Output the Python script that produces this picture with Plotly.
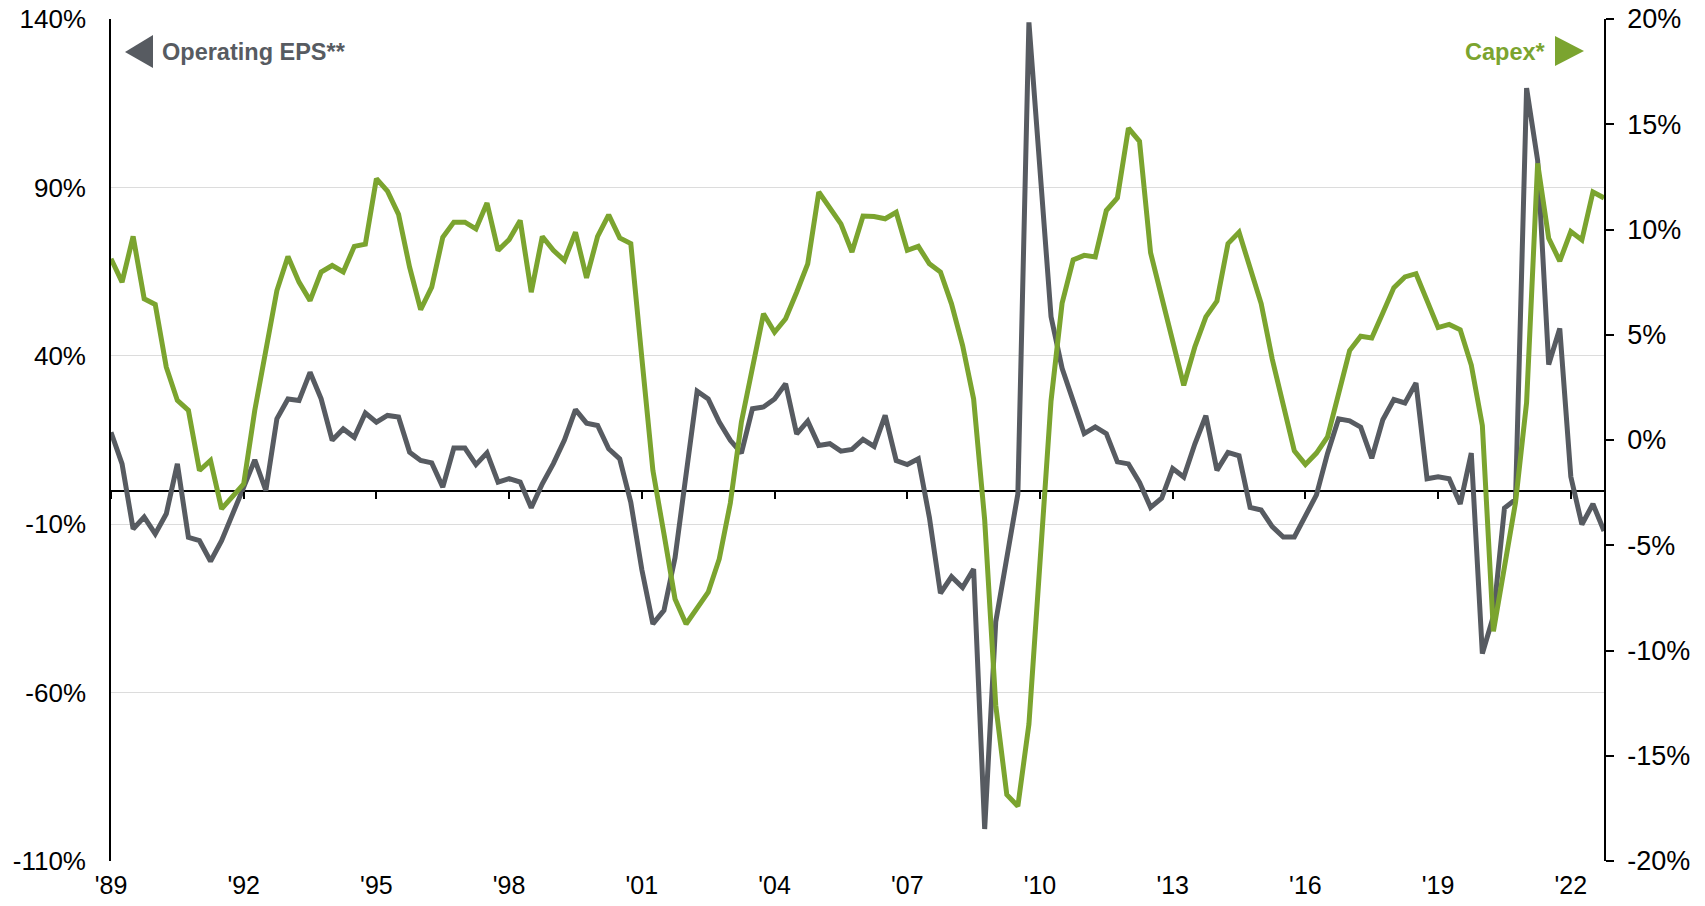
import plotly.graph_objects as go
import pandas as pd

# Operating EPS y/y growth (%), left axis, quarterly from 1989Q1
eps = [17.3, 7.9, -11.4, -7.9, -12.9, -6.9, 7.9, -13.9, -14.9, -21.0,
       -14.9, -7.4, 1.0, 9.1, 0.0, 21.3, 27.2, 26.7, 35.1, 27.2,
       14.9, 18.3, 15.8, 23.0, 20.3, 22.3, 21.8, 11.4, 8.9, 8.2,
       1.0, 12.6, 12.6, 7.7, 11.2, 2.5, 3.5, 2.5, -5.1, 2.0,
       8.0, 15.0, 24.0, 20.0, 19.3, 12.4, 9.4, -3.5, -23.5, -39.6,
       -35.6, -20.0, 5.0, 29.5, 27.2, 20.3, 14.9, 11.1, 24.3, 24.8,
       27.2, 31.7, 16.8, 20.6, 13.4, 13.9, 11.7, 12.2, 15.2, 13.1,
       22.3, 8.9, 7.7, 9.4, -8.0, -30.5, -25.6, -28.8, -23.3, -100.5,
       -39.0, -20.2, -1.0, 139.0, 93.0, 51.6, 36.3, 26.6, 16.9, 18.9,
       16.9, 8.5, 7.9, 2.4, -5.0, -2.3, 6.5, 4.0, 13.8, 22.2,
       6.0, 11.3, 10.3, -5.0, -5.8, -10.7, -13.8, -13.8, -7.8, -1.3,
       11.0, 21.3, 20.7, 18.8, 9.6, 21.0, 27.0, 26.0, 31.9, 3.5,
       4.1, 3.5, -4.0, 11.1, -48.4, -37.3, -5.2, -2.7, 119.5, 98.0,
       37.4, 48.1, 4.1, -10.1, -4.0, -12.0]

# Capex y/y growth (%), right axis
capex = [8.61, 7.5, 9.67, 6.71, 6.44, 3.46, 1.88, 1.41, -1.45, -0.97,
         -3.27, -2.64, -2.08, 1.41, 4.26, 7.1, 8.72, 7.5, 6.62, 7.98,
         8.29, 7.98, 9.2, 9.3, 12.42, 11.82, 10.72, 8.21, 6.19, 7.26,
         9.63, 10.35, 10.35, 10.03, 11.26, 9.01, 9.52, 10.43, 7.02, 9.67,
         9.01, 8.53, 9.87, 7.7, 9.67, 10.7, 9.6, 9.33, 3.9, -1.45,
         -4.46, -7.55, -8.74, -7.95, -7.23, -5.65, -3.0, 0.85, 3.3, 6.0,
         5.12, 5.76, 7.02, 8.37, 11.78, 11.07, 10.27, 8.93, 10.64, 10.62,
         10.51, 10.82, 9.01, 9.2, 8.37, 7.98, 6.47, 4.5, 1.95, -3.8,
         -12.6, -16.85, -17.4, -13.5, -6.1, 1.86, 6.5, 8.56, 8.77, 8.7,
         10.9, 11.5, 14.82, 14.19, 8.9, 6.78, 4.72, 2.6, 4.42, 5.85,
         6.6, 9.33, 9.87, 8.1, 6.48, 3.85, 1.58, -0.52, -1.16, -0.62,
         0.15, 2.3, 4.25, 4.93, 4.85, 6.03, 7.24, 7.75, 7.9, 6.62,
         5.34, 5.49, 5.24, 3.56, 0.69, -9.09, -5.93, -2.96, 1.78, 13.14,
         9.58, 8.5, 9.9, 9.5, 11.78, 11.5]

quarters = pd.period_range("1989Q1", periods=len(eps), freq="Q")
x = [q.year + (q.quarter - 1) / 4 for q in quarters]

tick_years = [1989, 1992, 1995, 1998, 2001, 2004, 2007, 2010, 2013, 2016, 2019, 2022]
tick_labels = ["'89", "'92", "'95", "'98", "'01", "'04", "'07", "'10", "'13", "'16", "'19", "'22"]
left_ticks = [-110, -60, -10, 40, 90, 140]
left_labels = ["-110%", "-60%", "-10%", "40%", "90%", "140%"]
right_ticks = [-20, -15, -10, -5, 0, 5, 10, 15, 20]
right_labels = ["-20%", "-15%", "-10%", "-5%", "0%", "5%", "10%", "15%", "20%"]

GRAY = "#575b61"
GREEN = "#7ba42f"
FONT = "Arial, Liberation Sans, sans-serif"

# plot area in pixels
W, H = 1705, 906
L_M, R_M, T_M, B_M = 111, 101, 19, 45
PW = W - L_M - R_M
PH = H - T_M - B_M


def px(xp):
    return (xp - L_M) / PW


def py(yp):
    return (H - B_M - yp) / PH


fig = go.Figure()
fig.add_trace(go.Scatter(x=x, y=eps, mode="lines", name="Operating EPS**",
                         line=dict(color=GRAY, width=5), xaxis="x", yaxis="y"))
fig.add_trace(go.Scatter(x=x, y=capex, mode="lines", name="Capex*",
                         line=dict(color=GREEN, width=5), xaxis="x", yaxis="y2"))
# helper (invisible) trace so the tick axis on the zero line is drawn
fig.add_trace(go.Scatter(x=[x[0], x[-1]], y=[0, 0], mode="markers", xaxis="x2", yaxis="y",
                         marker=dict(size=1, opacity=0), hoverinfo="skip", showlegend=False))

xr = [x[0], x[-1]]
fig.update_layout(
    width=W, height=H,
    margin=dict(l=L_M, r=R_M, t=T_M, b=B_M, autoexpand=False),
    paper_bgcolor="white", plot_bgcolor="white",
    showlegend=False,
    font=dict(family=FONT, size=26, color="black"),
    xaxis=dict(range=xr, tickvals=tick_years, ticktext=tick_labels, automargin=False,
               showgrid=False, zeroline=False, showline=False, ticks="",
               tickfont=dict(size=25, color="black"), ticklabelstandoff=7),
    xaxis2=dict(range=xr, overlaying="x", anchor="free", position=110 / 250,
                tickvals=tick_years, showticklabels=False, ticks="outside", automargin=False,
                ticklen=7, tickwidth=1.5, tickcolor="black",
                showgrid=False, zeroline=False, showline=False),
    yaxis=dict(range=[-110, 140], tickvals=left_ticks, ticktext=left_labels, automargin=False,
               showgrid=True, gridcolor="#dcdcdc", gridwidth=1.3,
               zeroline=True, zerolinecolor="black", zerolinewidth=1.6,
               showline=True, linecolor="black", linewidth=1.6, ticks="",
               tickfont=dict(size=26, color="black"), ticklabelstandoff=18),
    yaxis2=dict(range=[-20, 20], tickvals=right_ticks, ticktext=right_labels, automargin=False,
                overlaying="y", side="right", anchor="x",
                showgrid=False, zeroline=False,
                showline=True, linecolor="black", linewidth=1.6,
                ticks="outside", ticklen=8, tickwidth=1.6, tickcolor="black",
                tickfont=dict(size=27, color="black"), ticklabelstandoff=8),
    annotations=[
        dict(text="<b>Operating EPS**</b>", xref="paper", yref="paper",
             x=px(160), y=py(52), xanchor="left", yanchor="middle", showarrow=False,
             font=dict(family=FONT, size=23.5, color=GRAY)),
        dict(text="<b>Capex*</b>", xref="paper", yref="paper",
             x=px(1548), y=py(52), xanchor="right", yanchor="middle", showarrow=False,
             font=dict(family=FONT, size=23.5, color=GREEN)),
    ],
    shapes=[
        dict(type="path", xref="paper", yref="paper", line=dict(width=0), fillcolor=GRAY,
             path=f"M {px(125)},{py(52)} L {px(153)},{py(35)} L {px(153)},{py(68)} Z"),
        dict(type="path", xref="paper", yref="paper", line=dict(width=0), fillcolor=GREEN,
             path=f"M {px(1584)},{py(51)} L {px(1555)},{py(36)} L {px(1555)},{py(66)} Z"),
    ],
)

fig.write_html("out.html", config={"displayModeBar": False},
               post_script="document.body.style.margin='0';")
